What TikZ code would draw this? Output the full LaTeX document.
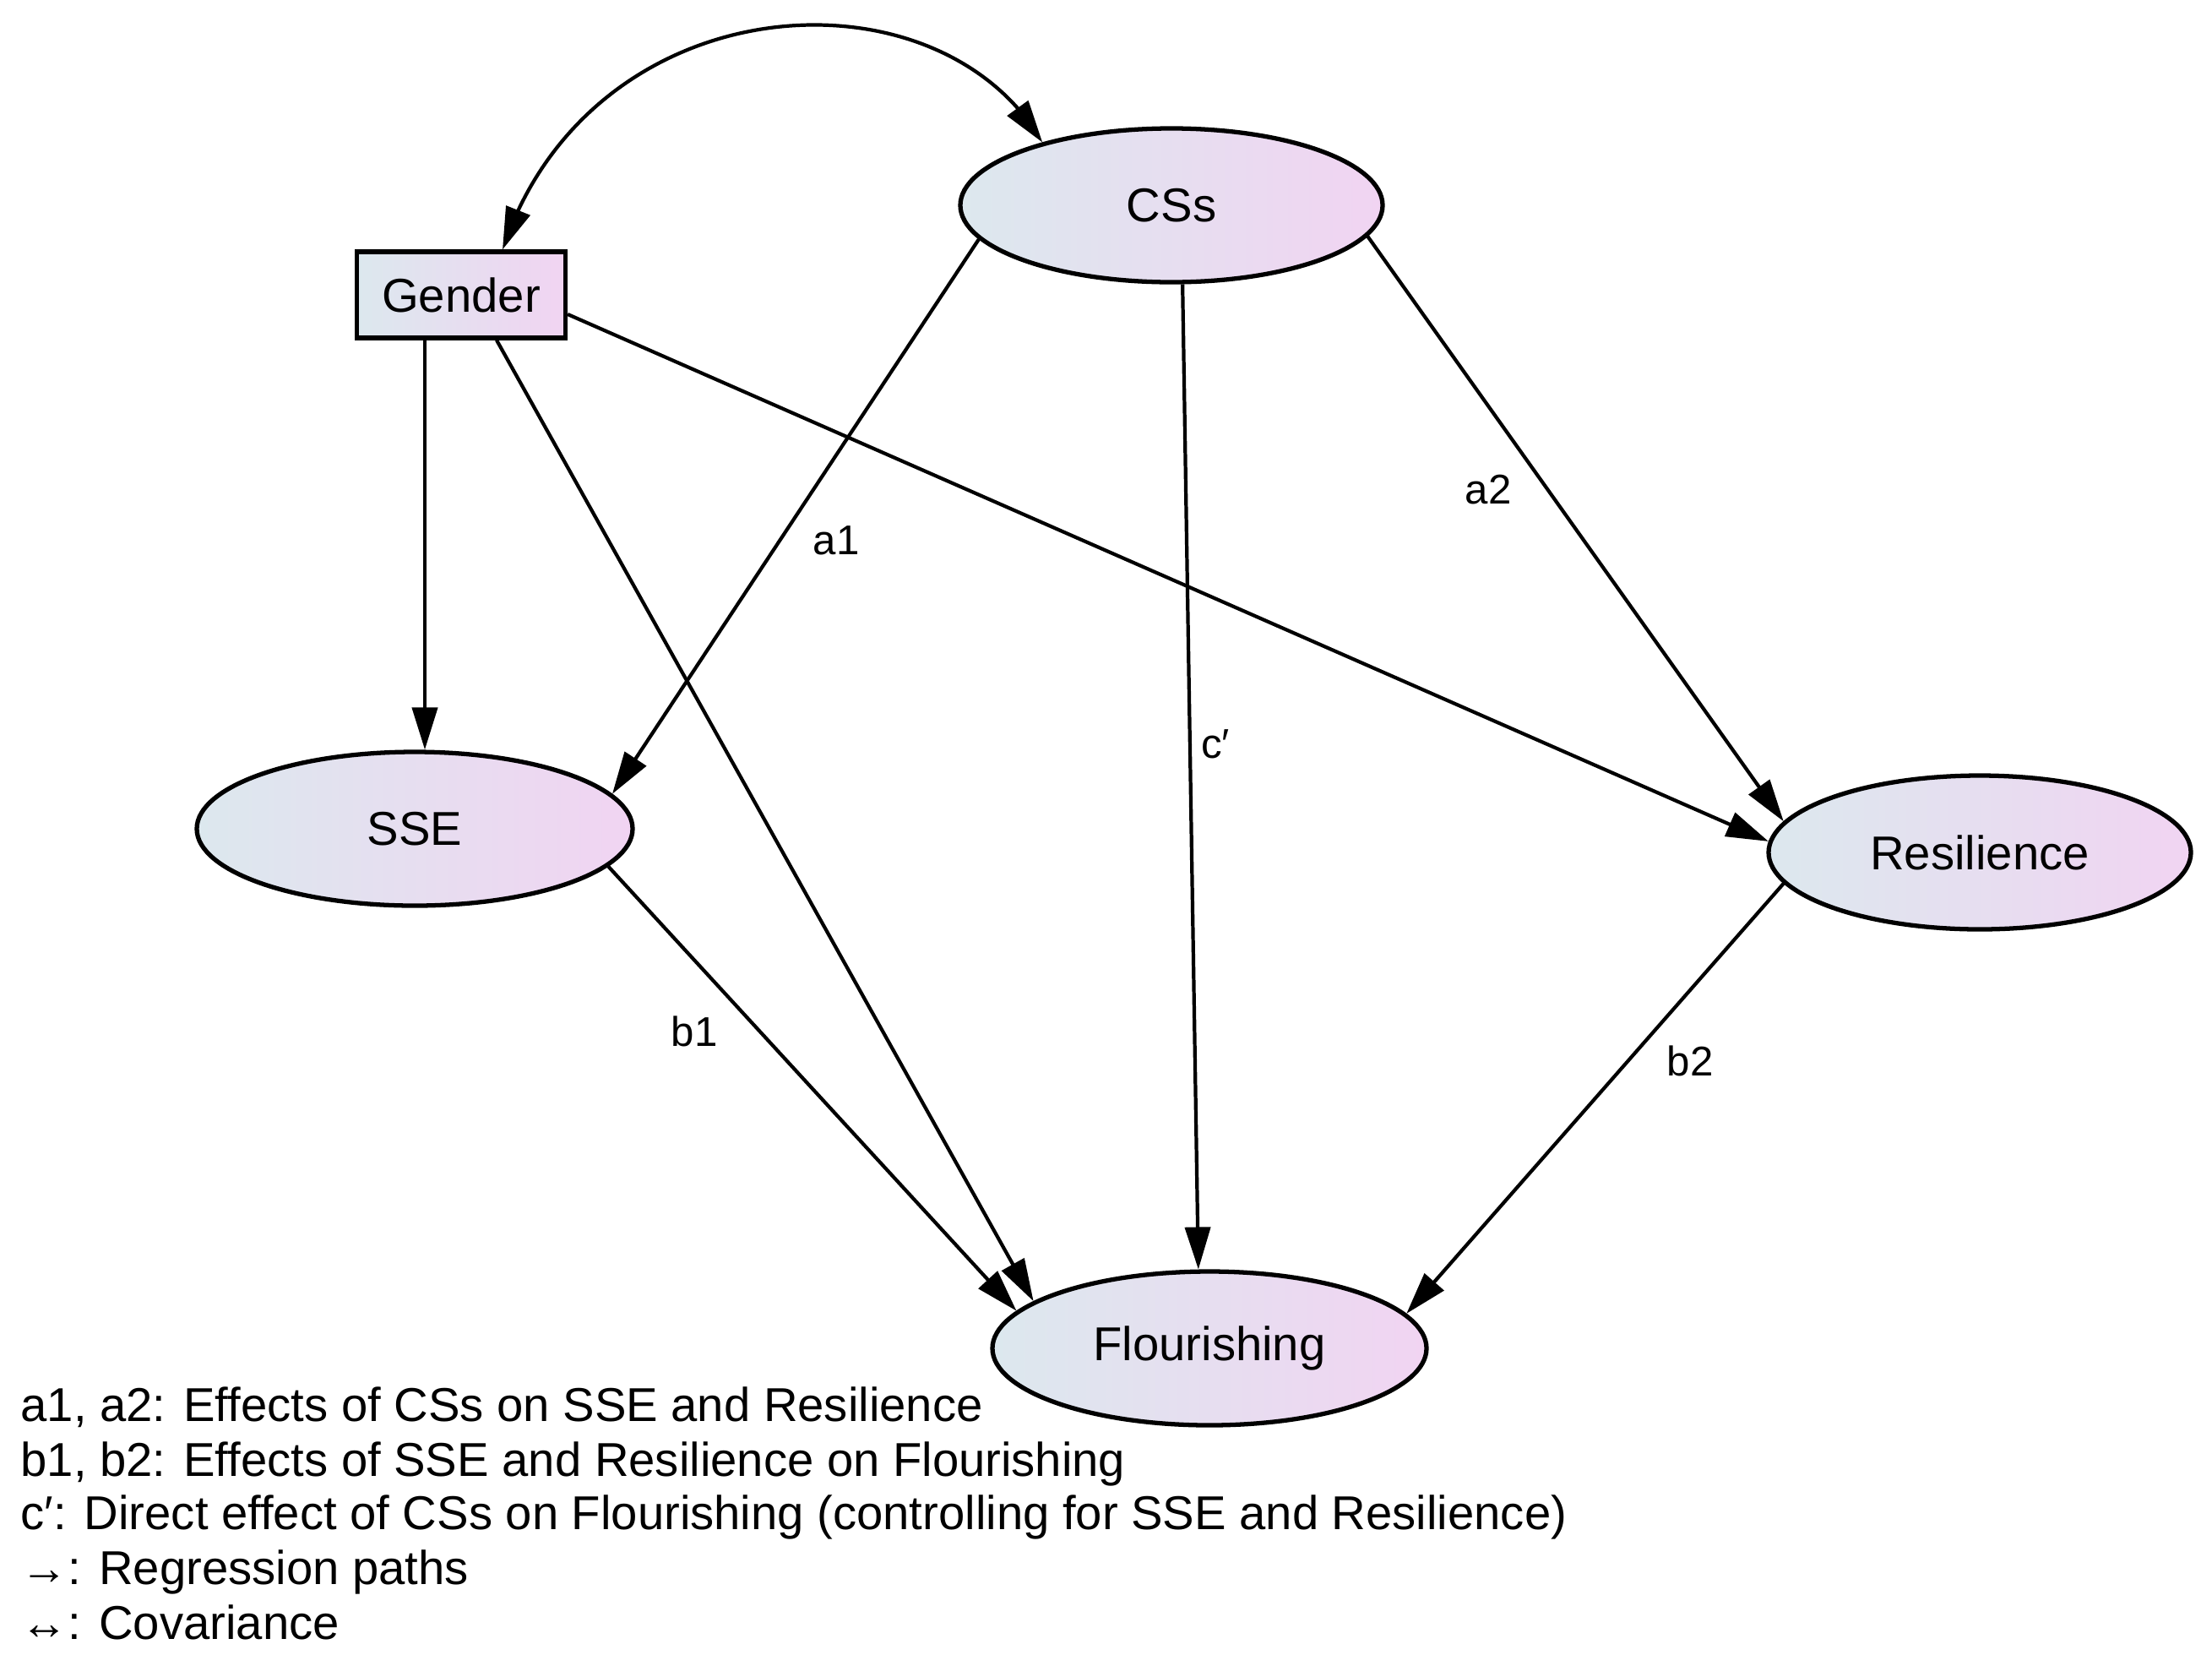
\documentclass[tikz,border=0pt]{standalone}
\usepackage{fontspec}
\setmainfont{Liberation Sans}
\usepackage{tikz}
\usetikzlibrary{shapes.geometric}
\usetikzlibrary{arrows.meta}
\usetikzlibrary{bending}
\usetikzlibrary{positioning}

\definecolor{fillL}{RGB}{220,232,238}
\definecolor{fillR}{RGB}{241,212,242}

\begin{document}
\begin{tikzpicture}[
  latent/.style={draw, ellipse, line width=1.5pt, left color=fillL, right color=fillR, inner sep=0pt, minimum height=1.82cm, font=\fontsize{16}{18}\selectfont},
  observed/.style={draw, rectangle, line width=1.5pt, left color=fillL, right color=fillR, inner sep=0pt, minimum width=2.47cm, minimum height=1.02cm, font=\fontsize{16}{18}\selectfont},
  regpath/.style={line width=1.2pt, -{Triangle[length=5mm,width=3mm]}},
  covpath/.style={line width=1.2pt, {Triangle[length=5mm,width=3mm]}-{Triangle[length=5mm,width=3mm]}},
  lbl/.style={inner sep=0pt, font=\fontsize{14}{16}\selectfont},
  legend/.style={anchor=base west, inner sep=0pt, font=\fontsize{16}{18}\selectfont}
]
\useasboundingbox (0,0) rectangle (26.19,-19.71);

% variables
\node[latent, minimum width=5.00cm] (css) at (13.87,-2.43) {CSs};
\node[observed] (gender) at (5.46,-3.49) {Gender};
\node[latent, minimum width=5.16cm] (sse) at (4.91,-9.81) {SSE};
\node[latent, minimum width=5.00cm] (res) at (23.44,-10.09) {Resilience};
\node[latent, minimum width=5.14cm] (flour) at (14.32,-15.96) {Flourishing};

% covariance
\draw[covpath, overlay] ([xshift=4.9mm]gender.north) .. controls (7.00,0.20) and (11.10,0.45) .. (css.154);

% regression paths
\draw[regpath] ([xshift=-4.3mm]gender.south) -- ([xshift=-4.3mm]gender.south |- sse.north);
\draw[regpath] ([xshift=4.2mm]gender.south) -- (flour.165);
\draw[regpath] ([yshift=-2.3mm]gender.east) -- (res.177);
\draw[regpath] (css.190) -- (sse.10);
\draw[regpath] (css.-82) -- (flour.98);
\draw[regpath] (css.-9) -- (res.171);
\draw[regpath] (sse.-11.5) -- (flour.169);
\draw[regpath] (res.189) -- (flour.10.7);

% path labels
\node[lbl] (la1) at (9.90,-6.40) {a1};
\node[lbl] (la2) at (17.62,-5.80) {a2};
\node[lbl] (lc) at (14.39,-8.81) {c′};
\node[lbl] (lb1) at (8.22,-12.21) {b1};
\node[lbl] (lb2) at (20.01,-12.56) {b2};

% legend
\node[legend] (leg1) at (0.24,-16.82) {a1, a2: Effects of CSs on SSE and Resilience};
\node[legend] (leg2) at (0.24,-17.47) {b1, b2: Effects of SSE and Resilience on Flourishing};
\node[legend] (leg3) at (0.24,-18.10) {c′: Direct effect of CSs on Flourishing (controlling for SSE and Resilience)};
\node[legend] (leg4) at (0.24,-18.75) {→: Regression paths};
\node[legend] (leg5) at (0.24,-19.40) {↔: Covariance};
\end{tikzpicture}
\end{document}
